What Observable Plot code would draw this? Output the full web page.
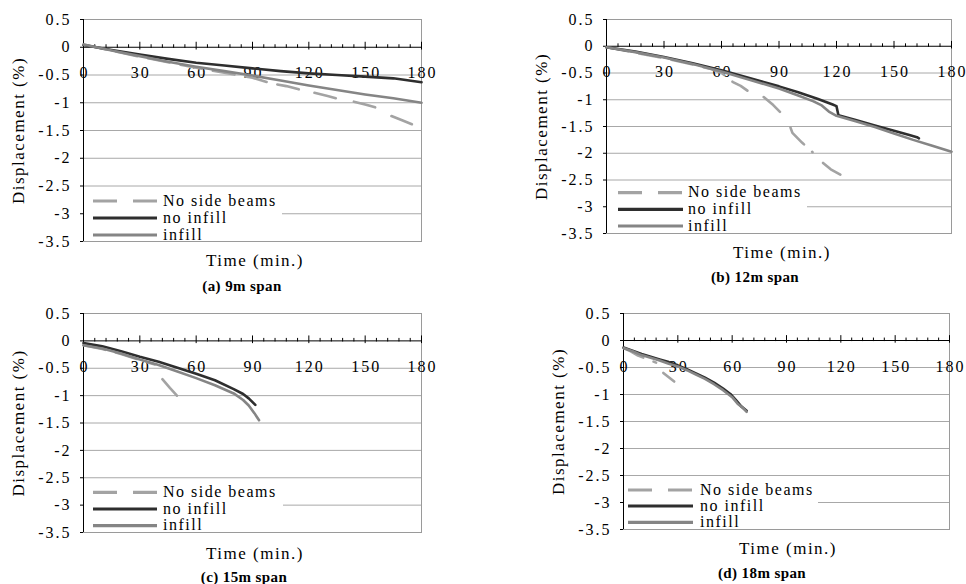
<!DOCTYPE html>
<html><head><meta charset="utf-8">
<script src="https://cdn.jsdelivr.net/npm/d3@7"></script>
<script src="https://cdn.jsdelivr.net/npm/@observablehq/plot@0.6"></script>
<style>
body{margin:0;background:#fff;}
#fig{position:relative;width:966px;height:584px;overflow:hidden;font-family:"Liberation Serif","Times New Roman",serif;color:#000;}
.panel{position:absolute;}
.lbl{position:absolute;transform:translate(-50%,-50%);white-space:nowrap;line-height:1;}
.xt{font-size:17px;letter-spacing:1.5px;}
.cap{font-size:15px;font-weight:bold;letter-spacing:0.4px;}
.leg{position:absolute;background:#fff;}
</style></head><body><div id="fig"></div><script>
// ---- data ----
const seriesNames = ["No side beams", "no infill", "infill"];
const xMajor = [0, 30, 60, 90, 120, 150, 180];
const xMinor = [6,12,18,24,36,42,48,54,66,72,78,84,96,102,108,114,126,132,138,144,156,162,168,174];
const yTicks = [0.5, 0, -0.5, -1, -1.5, -2, -2.5, -3, -3.5];
const captions = ["(a) 9m span", "(b) 12m span", "(c) 15m span", "(d) 18m span"];
const xTitle = "Time (min.)";
const yTitle = "Displacement (%)";

// [time (min), displacement (%)]; null = gap in the curve
const noSideBeamsA = [[0,0.05],[15,-0.06],[30,-0.17],[45,-0.27],[60,-0.37],[75,-0.46],[90,-0.55],[100,-0.65],[108,-0.70],[116,-0.77],[120,null],[123,-0.82],[130,-0.88],[137,-0.94],[140,null],[144,-0.98],[150,-1.03],[157,-1.10],[160,null],[164,-1.24],[170,-1.32],[178,-1.43]];
const noInfillA = [[0,0.04],[15,-0.05],[30,-0.13],[45,-0.21],[60,-0.28],[75,-0.33],[90,-0.38],[105,-0.43],[120,-0.47],[135,-0.50],[150,-0.53],[165,-0.56],[180,-0.63]];
const infillA = [[0,0.05],[15,-0.06],[30,-0.16],[45,-0.26],[60,-0.35],[75,-0.43],[90,-0.51],[105,-0.60],[120,-0.69],[135,-0.77],[150,-0.85],[165,-0.92],[180,-1.0]];

const noSideBeamsB = [[0,-0.02],[15,-0.12],[30,-0.22],[45,-0.34],[55,-0.43],[60,-0.50],[63,-0.58],[66,-0.67],[70,-0.74],[73.5,-0.83],[77,null],[82,-0.95],[87,-1.10],[92,-1.28],[94,null],[96,-1.52],[97,-1.62],[102,-1.80],[107.5,-1.98],[110,null],[113,-2.18],[117,-2.30],[122,-2.40]];
const noInfillB = [[0,-0.02],[15,-0.10],[30,-0.20],[45,-0.32],[60,-0.45],[75,-0.60],[90,-0.75],[100,-0.86],[110,-0.98],[118,-1.09],[120,-1.12],[121,-1.29],[130,-1.38],[140,-1.48],[150,-1.58],[158,-1.66],[162,-1.70],[163,-1.72]];
const infillB = [[0,-0.02],[15,-0.11],[30,-0.21],[45,-0.33],[60,-0.47],[75,-0.63],[90,-0.79],[100,-0.92],[108,-1.03],[112,-1.10],[116,-1.22],[120,-1.30],[130,-1.40],[140,-1.51],[150,-1.63],[160,-1.75],[170,-1.86],[180,-1.97]];

const noSideBeamsC = [[0,-0.08],[10,-0.15],[20,-0.24],[30,-0.35],[38,-0.43],[40,null],[42,-0.70],[46,-0.86],[50,-1.01]];
const noInfillC = [[0,-0.04],[10,-0.10],[20,-0.19],[30,-0.29],[40,-0.38],[50,-0.49],[60,-0.60],[70,-0.72],[80,-0.88],[85,-0.97],[88,-1.05],[91.5,-1.17]];
const infillC = [[0,-0.08],[10,-0.14],[20,-0.23],[30,-0.34],[40,-0.44],[50,-0.56],[60,-0.68],[70,-0.81],[80,-0.96],[85,-1.08],[88,-1.18],[91,-1.32],[93.5,-1.45]];

const noSideBeamsD = [[0,-0.14],[4,-0.20],[8,-0.28],[12,-0.33],[15,-0.37],[18,-0.41],[20,null],[22,-0.60],[25,-0.68],[28,-0.76]];
const noInfillD = [[0,-0.13],[5,-0.19],[10,-0.25],[15,-0.30],[20,-0.35],[25,-0.40],[30,-0.46],[35,-0.53],[40,-0.61],[45,-0.69],[50,-0.78],[55,-0.89],[59,-0.99],[62,-1.10],[65,-1.22],[68,-1.30]];
const infillD = [[0,-0.14],[5,-0.20],[10,-0.27],[15,-0.32],[20,-0.37],[25,-0.43],[30,-0.48],[35,-0.55],[40,-0.63],[45,-0.71],[50,-0.81],[55,-0.92],[60,-1.05],[63,-1.17],[66,-1.25],[68,-1.32]];

const panelData = [
  [noSideBeamsA, noInfillA, infillA],
  [noSideBeamsB, noInfillB, infillB],
  [noSideBeamsC, noInfillC, infillC],
  [noSideBeamsD, noInfillD, infillD]
];

// ---- styles & layout ----
const seriesStyle = [
  {stroke: "#a3a3a3", dash: "22,11", width: 2.6},
  {stroke: "#2e2e2e", dash: null, width: 2.6},
  {stroke: "#858585", dash: null, width: 2.6}
];
const layout = [
  {left:0, top:0, width:440, height:250, mL:83, mR:19, mT:19, mB:9, title:[255,260], cap:[242,286],
   leg:{left:84, top:190, w:198, h:51, rows:[11,28,45], x1:9, x2:73, tx:79}},
  {left:500, top:0, width:466, height:250, mL:106, mR:15, mT:19, mB:17, title:[782,252], cap:[755,277],
   leg:{left:607, top:184, w:200, h:49, rows:[8.7,25.3,42], x1:11, x2:76, tx:81}},
  {left:0, top:290, width:440, height:250, mL:83, mR:19, mT:23, mB:8, title:[255,553], cap:[244,577],
   leg:{left:84, top:482, w:199, h:50, rows:[10.3,27,43.7], x1:9, x2:73, tx:79}},
  {left:500, top:290, width:466, height:250, mL:123, mR:17, mT:23, mB:11, title:[788,548], cap:[762,573],
   leg:{left:624, top:480, w:194, h:49, rows:[10,26,42.3], x1:4, x2:69, tx:76}}
];

const fig = document.getElementById("fig");
const FONT = '"Liberation Serif", "Times New Roman", serif';

layout.forEach((L, i) => {
  const series = panelData[i];
  const lineMarks = series.map((s, k) => Plot.line(s, {
    x: d => d[0], y: d => (d[1] == null ? NaN : d[1]),
    stroke: seriesStyle[k].stroke, strokeWidth: seriesStyle[k].width,
    strokeDasharray: seriesStyle[k].dash || undefined, strokeLinejoin: "round"
  }));
  const svg = Plot.plot({
    width: L.width, height: L.height,
    marginLeft: L.mL, marginRight: L.mR, marginTop: L.mT, marginBottom: L.mB,
    style: {fontFamily: FONT, fontSize: "16px", background: "transparent", color: "#000"},
    x: {domain: [0, 180], axis: null},
    y: {domain: [-3.5, 0.5]},
    marks: [
      Plot.gridY(yTicks.filter(v => v !== 0 && v !== 0.5 && v !== -3.5), {stroke: "#a8a8a8", strokeOpacity: 1}),
      Plot.frame({stroke: "#9a9a9a"}),
      Plot.ruleY([0], {stroke: "#000"}),
      Plot.ruleX(xMinor, {x: d => d, y1: -0.02, y2: 0.045, stroke: "#000"}),
      Plot.ruleX(xMajor.filter(v => v > 0), {x: d => d, y1: -0.05, y2: 0.09, stroke: "#000"}),
      Plot.ruleX([0], {stroke: "#000"}),
      Plot.axisY(yTicks, {anchor: "left", tickSize: 3, tickPadding: 9, tickFormat: d => String(d), label: null, fontSize: 16}),
      Plot.text(xMajor, {x: d => d, y: 0, dy: 26, dx: 1, text: d => String(d), fontSize: 16}),
      Plot.text([yTitle], {frameAnchor: "left", textAnchor: "middle", lineAnchor: "middle", dx: -65, rotate: -90, fontSize: 17}),
      ...lineMarks
    ]
  });
  const sel = d3.select(svg);
  sel.selectAll('g[aria-label="y-axis tick label"] text').style("letter-spacing", "2px").attr("font-variant", null);
  sel.select('g[aria-label="y-axis tick label"]').attr("font-variant", null);
  const textGroups = svg.querySelectorAll('g[aria-label="text"]');
  if (textGroups[0]) d3.select(textGroups[0]).selectAll("text").style("letter-spacing", "2px");
  if (textGroups[1]) d3.select(textGroups[1]).selectAll("text").style("letter-spacing", "1.5px");
  const wrap = document.createElement("div");
  wrap.className = "panel";
  wrap.style.left = L.left + "px";
  wrap.style.top = L.top + "px";
  wrap.appendChild(svg);
  fig.appendChild(wrap);

  // legend
  const lg = document.createElement("div");
  lg.className = "leg";
  Object.assign(lg.style, {left: L.leg.left + "px", top: L.leg.top + "px", width: L.leg.w + "px", height: L.leg.h + "px"});
  const ls = d3.create("svg").attr("width", L.leg.w).attr("height", L.leg.h)
    .style("font-family", FONT).style("font-size", "16px").style("display", "block");
  seriesNames.forEach((name, k) => {
    const y = L.leg.rows[k];
    ls.append("line").attr("x1", L.leg.x1).attr("x2", L.leg.x2).attr("y1", y).attr("y2", y)
      .attr("stroke", seriesStyle[k].stroke).attr("stroke-width", 3.2)
      .attr("stroke-dasharray", k === 0 ? "24,16" : null);
    ls.append("text").attr("x", L.leg.tx).attr("y", y + 4.5).text(name)
      .style("letter-spacing", "1.5px").attr("fill", "#000");
  });
  lg.appendChild(ls.node());
  fig.appendChild(lg);

  // x title & caption
  const t = document.createElement("div");
  t.className = "lbl xt";
  t.style.left = L.title[0] + "px"; t.style.top = L.title[1] + "px";
  t.textContent = xTitle;
  fig.appendChild(t);
  const c = document.createElement("div");
  c.className = "lbl cap";
  c.style.left = L.cap[0] + "px"; c.style.top = L.cap[1] + "px";
  c.textContent = captions[i];
  fig.appendChild(c);
});
</script></body></html>
